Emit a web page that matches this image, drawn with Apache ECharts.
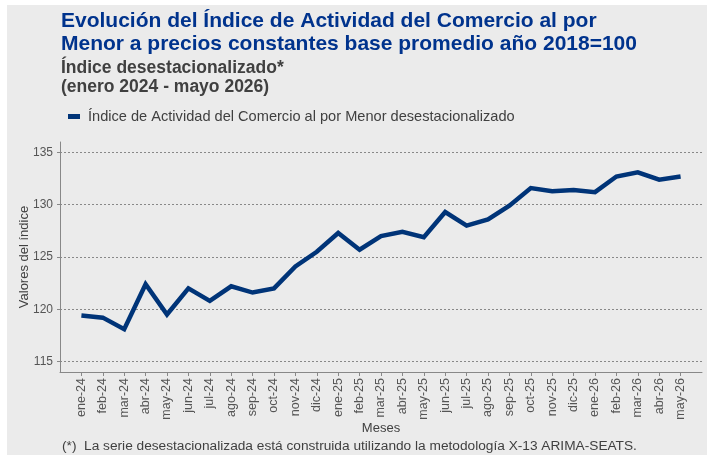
<!DOCTYPE html>
<html>
<head>
<meta charset="utf-8">
<script src="https://cdn.jsdelivr.net/npm/echarts@6/dist/echarts.min.js"></script>
<style>
html,body{margin:0;padding:0;background:#fff;}
#c{width:707px;height:455px;}
</style>
</head>
<body>
<div id="c"></div>
<script>
const categories = ['ene-24','feb-24','mar-24','abr-24','may-24','jun-24','jul-24','ago-24','sep-24','oct-24','nov-24','dic-24',
  'ene-25','feb-25','mar-25','abr-25','may-25','jun-25','jul-25','ago-25','sep-25','oct-25','nov-25','dic-25',
  'ene-26','feb-26','mar-26','abr-26','may-26'];
const values = [119.4,119.2,118.1,122.4,119.5,122.0,120.8,122.2,121.6,122.0,124.1,125.5,
  127.3,125.7,127.0,127.4,126.9,129.3,128.0,128.6,129.9,131.6,131.3,131.4,
  131.2,132.7,133.1,132.4,132.7];
const yTicks = [115,120,125,130,135];
const seriesName = 'Índice de Actividad del Comercio al por Menor desestacionalizado';

// pad with empty slots at both ends so the first/last months sit one step in from the axis ends
const xCats = [''].concat(categories, ['']);
const yData = [null].concat(values, [null]);

const FONT = '"Liberation Sans", Arial, sans-serif';
const chart = echarts.init(document.getElementById('c'));
chart.setOption({
  animation: false,
  backgroundColor: '#ffffff',
  graphic: [{
    type: 'rect', z: -10, silent: true,
    shape: {x: 7, y: 5, width: 700, height: 450},
    style: {fill: '#ebebeb'}
  }],
  title: [{
    text: 'Evolución del Índice de Actividad del Comercio al por\nMenor a precios constantes base promedio año 2018=100',
    left: 61, top: 10, padding: 0,
    textStyle: {fontFamily: FONT, fontSize: 21, fontWeight: 'bold', color: '#00338d', lineHeight: 23}
  }, {
    text: 'Índice desestacionalizado*\n(enero 2024 - mayo 2026)',
    left: 61, top: 59, padding: 0,
    textStyle: {fontFamily: FONT, fontSize: 17.5, fontWeight: 'bold', color: '#404040', lineHeight: 19}
  }, {
    text: '(*)  La serie desestacionalizada está construida utilizando la metodología X-13 ARIMA-SEATS.',
    left: 62, top: 439, padding: 0,
    textStyle: {fontFamily: FONT, fontSize: 13.7, fontWeight: 'normal', color: '#404040'}
  }],
  legend: {
    left: 68, top: 109, padding: 0,
    icon: 'rect', itemWidth: 12, itemHeight: 5, itemGap: 8,
    textStyle: {fontFamily: FONT, fontSize: 14.6, color: '#404040', padding: [0, 0, 0, 3]},
    data: [seriesName]
  },
  grid: {left: 60, right: 5, top: 142, bottom: 83, containLabel: false},
  xAxis: {
    type: 'category', data: xCats, boundaryGap: false,
    name: 'Meses', nameLocation: 'middle', nameGap: 50, nameMoveOverlap: false,
    nameTextStyle: {fontFamily: FONT, fontSize: 13, color: '#404040'},
    axisLine: {lineStyle: {color: '#888', width: 1}},
    axisTick: {show: true, length: 4, lineStyle: {color: '#888'},
      interval: function (i) { return i > 0 && i < xCats.length - 1; }},
    axisLabel: {interval: 0, rotate: 90, margin: 6, fontFamily: FONT, fontSize: 12.5, color: '#555'},
    splitLine: {show: false}
  },
  yAxis: {
    type: 'value', min: 114, max: 136,
    name: 'Valores del índice', nameLocation: 'middle', nameGap: 29, nameMoveOverlap: false,
    nameTextStyle: {fontFamily: FONT, fontSize: 13, color: '#404040'},
    axisLine: {show: true, lineStyle: {color: '#888', width: 1}},
    axisTick: {show: true, length: 3, lineStyle: {color: '#888'}, customValues: yTicks},
    axisLabel: {margin: 7, fontFamily: FONT, fontSize: 12, color: '#555', customValues: yTicks},
    splitLine: {show: true, lineStyle: {color: '#888', type: [2, 2], width: 1}}
  },
  series: [{
    name: seriesName, type: 'line', data: yData,
    showSymbol: false, symbol: 'none', connectNulls: false,
    lineStyle: {color: '#003478', width: 4.5, join: 'miter'},
    itemStyle: {color: '#003478'}
  }]
});
</script>
</body>
</html>
